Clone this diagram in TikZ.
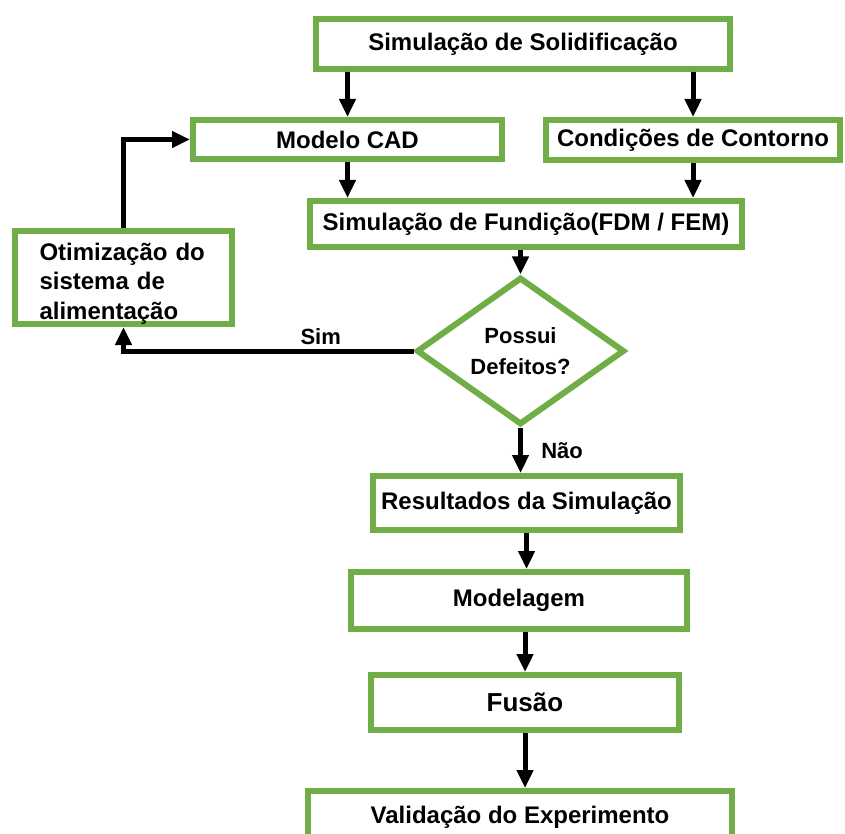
\documentclass[tikz,border=0pt]{standalone}
\usepackage{fontspec}
\setmainfont{Liberation Sans}
\usetikzlibrary{shapes.geometric}
\usetikzlibrary{arrows.meta}
\definecolor{boxgreen}{RGB}{112,173,71}
\tikzset{
  flow_node/.style = {align=center, inner sep=2pt,
    font=\bfseries\fontsize{24}{31}\selectfont},
  proc_node/.style = {flow_node, rectangle, draw=boxgreen, fill=white,
    line width=6pt},% etapa do processo
  dec_node/.style = {flow_node, diamond, draw=boxgreen, fill=white,
    line width=6pt, inner sep=0pt,
    font=\bfseries\fontsize{22}{31}\selectfont},% decisao
  flow_arrow/.style = {line width=5pt, -{Triangle[length=18pt,width=16pt]}},
  edge_label/.style = {font=\bfseries\fontsize{22}{26}\selectfont}
}
\begin{document}
\begin{tikzpicture}[x=1pt, y=-1pt]
  \useasboundingbox (0,0) rectangle (845,834);
  \node [proc_node, minimum width=414pt, minimum height=50pt] (solid) at (523,44) {Simulação de Solidificação};
  \node [proc_node, minimum width=309pt, minimum height=39pt] (cad) at (347.5,139.5) {Modelo CAD};
  \node [proc_node, minimum width=294pt, minimum height=40pt] (cont) at (693,140) {Condições de Contorno};
  \node [proc_node, minimum width=432pt, minimum height=46pt] (fund) at (526,224) {Simulação de Fundição(FDM / FEM)};
  \node [proc_node, align=left, text width=168pt, inner ysep=0pt, minimum width=217pt, minimum height=93pt,
    font=\bfseries\fontsize{24}{29.5}\selectfont] (otim) at (123.5,277.5)
    {\rule{0pt}{29pt}Otimização do\\sistema de\\alimentação};
  \node [dec_node, minimum width=208pt, minimum height=132pt] (dec) at (520.5,351) {Possui\\Defeitos?};
  \node [proc_node, minimum width=307pt, minimum height=54pt] (res) at (526.5,503) {Resultados da Simulação};
  \node [proc_node, minimum width=336pt, minimum height=57pt] (mod) at (519,600.5) {Modelagem};
  \node [proc_node, minimum width=308pt, minimum height=55pt,
    font=\bfseries\fontsize{26}{31}\selectfont] (fus) at (525,702.5) {Fusão};
  \node [proc_node, minimum width=424pt, minimum height=52pt] (val) at (520,817) {Validação do Experimento};

  % ligacoes
  \draw [flow_arrow] (solid.south -| cad) -- (cad.north);
  \draw [flow_arrow] (solid.south -| cont) -- (cont.north);
  \draw [flow_arrow] (cad.south) -- (cad.south |- fund.north);
  \draw [flow_arrow] (cont.south) -- (cont.south |- fund.north);
  \draw [flow_arrow] (fund.south -| dec.north) -- (dec.north);
  \draw [flow_arrow] (dec.south) -- node [edge_label, right, xshift=15pt] {Não} (dec.south |- res.north);
  \draw [flow_arrow] (res.south) -- (res.south |- mod.north);
  \draw [flow_arrow] (mod.south -| fus) -- (fus.north);
  \draw [flow_arrow] (fus.south) -- (fus.south |- val.north);
  \draw [flow_arrow] (dec.west) -| node [edge_label, above, pos=0.16] {Sim} (otim.south);
  \draw [flow_arrow] (otim.north) |- (cad.west);
\end{tikzpicture}
\end{document}
